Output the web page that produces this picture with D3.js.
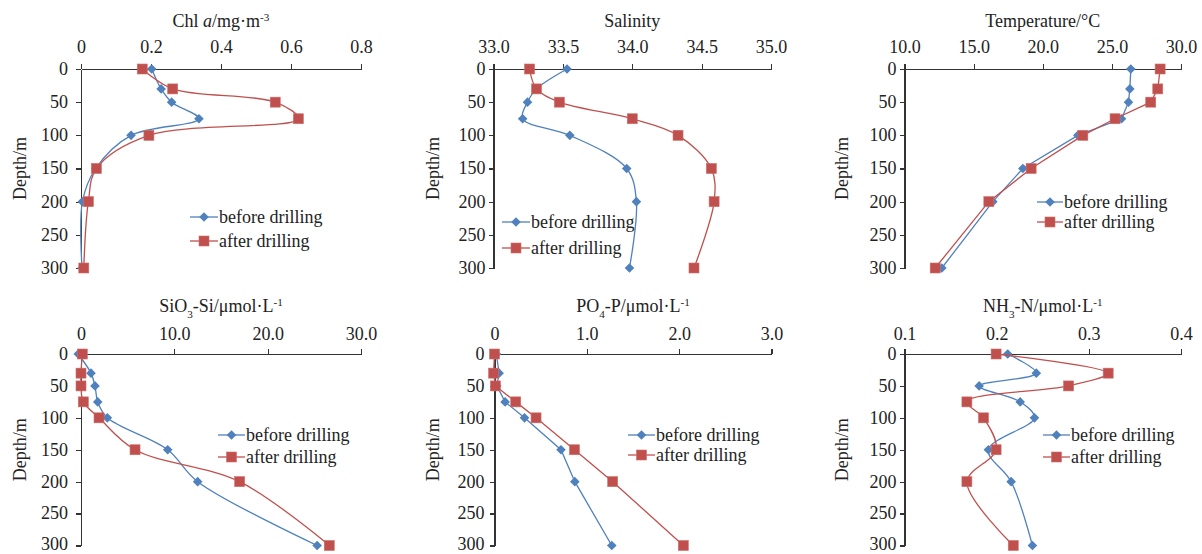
<!DOCTYPE html>
<html>
<head>
<meta charset="utf-8">
<script src="https://cdn.jsdelivr.net/npm/d3@7"></script>
<style>
  html, body { margin: 0; padding: 0; background: #fff; }
  svg { display: block; }
  text { font-family: "Liberation Serif", "Times New Roman", serif; fill: #222; }
</style>
</head>
<body>
<svg id="chart" width="1202" height="554"></svg>
<script>
// ---------------- DATA ----------------
const depths = [0, 30, 50, 75, 100, 150, 200, 300];
const depthTicks = [0, 50, 100, 150, 200, 250, 300];
const seriesNames = ["before drilling", "after drilling"];

const chlBefore = [0.202, 0.229, 0.259, 0.337, 0.143, 0.042, 0.004, 0.003];
const chlAfter  = [0.175, 0.262, 0.555, 0.621, 0.194, 0.044, 0.021, 0.008];
const chlTicks = [0, 0.2, 0.4, 0.6, 0.8];
const chlTickLabels = ["0", "0.2", "0.4", "0.6", "0.8"];

const salBefore = [33.53, 33.31, 33.245, 33.21, 33.55, 33.96, 34.03, 33.98];
const salAfter  = [33.26, 33.31, 33.475, 34.0, 34.33, 34.57, 34.59, 34.445];
const salTicks = [33.0, 33.5, 34.0, 34.5, 35.0];
const salTickLabels = ["33.0", "33.5", "34.0", "34.5", "35.0"];

const tempBefore = [26.37, 26.3, 26.2, 25.7, 22.54, 18.56, 16.39, 12.7];
const tempAfter  = [28.49, 28.32, 27.81, 25.23, 22.9, 19.16, 16.1, 12.22];
const tempTicks = [10, 15, 20, 25, 30];
const tempTickLabels = ["10.0", "15.0", "20.0", "25.0", "30.0"];

const siBefore = [-0.3, 1.07, 1.5, 1.79, 2.82, 9.29, 12.5, 25.3];
const siAfter  = [0.14, 0.0, 0.0, 0.25, 1.93, 5.79, 17.0, 26.6];
const siTicks = [0, 10, 20, 30];
const siTickLabels = ["0", "10.0", "20.0", "30.0"];

const poBefore = [0.02, 0.05, 0.025, 0.115, 0.325, 0.72, 0.87, 1.27];
const poAfter  = [0.0, -0.01, 0.01, 0.23, 0.45, 0.866, 1.28, 2.045];
const poTicks = [0, 1, 2, 3];
const poTickLabels = ["0", "1.0", "2.0", "3.0"];

const nhBefore = [0.212, 0.243, 0.181, 0.2255, 0.241, 0.191, 0.2157, 0.2388];
const nhAfter  = [0.1994, 0.321, 0.278, 0.1677, 0.1857, 0.1994, 0.1677, 0.218];
const nhTicks = [0.1, 0.2, 0.3, 0.4];
const nhTickLabels = ["0.1", "0.2", "0.3", "0.4"];

// ---------------- LAYOUT ----------------
const BLUE = "#4F81BD", RED = "#C0504D";
const FS = 18;
const svg = d3.select("#chart");

const panels = [
  { title: [["Chl "], ["a", "italic"], ["/mg·m"], ["-3", "sup"]], before: chlBefore, after: chlAfter,
    ticks: chlTicks, labels: chlTickLabels, x0: 81, x1: 361, y0: 69, y1: 268, smooth: true,
    ylab: 20, ypad: 8, leg: [190, 218, 217, 241] },
  { title: [["Salinity"]], before: salBefore, after: salAfter,
    ticks: salTicks, labels: salTickLabels, x0: 493.5, x1: 771, y0: 69, y1: 268, smooth: true,
    ylab: 433, ypad: 3, leg: [502, 530, 222, 248] },
  { title: [["Temperature/°C"]], before: tempBefore, after: tempAfter,
    ticks: tempTicks, labels: tempTickLabels, x0: 904.5, x1: 1181, y0: 69, y1: 268, smooth: false,
    ylab: 842, ypad: 3, leg: [1037, 1063, 202, 222] },
  { title: [["SiO"], ["3", "sub"], ["-Si/μmol·L"], ["-1", "sup"]], before: siBefore, after: siAfter,
    ticks: siTicks, labels: siTickLabels, x0: 81, x1: 361, y0: 354, y1: 545.5, smooth: true,
    ylab: 20, ypad: 8, leg: [218, 245, 435, 457] },
  { title: [["PO"], ["4", "sub"], ["-P/μmol·L"], ["-1", "sup"]], before: poBefore, after: poAfter,
    ticks: poTicks, labels: poTickLabels, x0: 494.5, x1: 771.5, y0: 354, y1: 545.5, smooth: false,
    ylab: 433, ypad: 5, leg: [628, 655, 435, 455] },
  { title: [["NH"], ["3", "sub"], ["-N/μmol·L"], ["-1", "sup"]], before: nhBefore, after: nhAfter,
    ticks: nhTicks, labels: nhTickLabels, x0: 904.5, x1: 1181, y0: 354, y1: 545.5, smooth: true,
    ylab: 842, ypad: 3, leg: [1043, 1070, 435, 457] }
];

function diamond(g, r) {
  return g.append("path").attr("d", `M0,${-r}L${r},0L0,${r}L${-r},0Z`).attr("fill", BLUE);
}
function square(g, s) {
  return g.append("rect").attr("x", -s / 2).attr("y", -s / 2).attr("width", s).attr("height", s)
    .attr("fill", RED).attr("stroke", "#CD6E6B").attr("stroke-width", 0.6);
}

panels.forEach(p => {
  const x = d3.scaleLinear().domain([p.ticks[0], p.ticks[p.ticks.length - 1]]).range([p.x0, p.x1]);
  const y = d3.scaleLinear().domain([0, 300]).range([p.y0, p.y1]);
  const g = svg.append("g");

  // X axis (top)
  const xa = g.append("g").attr("transform", `translate(0,${p.y0})`)
    .call(d3.axisTop(x).tickValues(p.ticks).tickFormat((d, i) => p.labels[i])
      .tickSize(5).tickSizeOuter(0).tickPadding(p.y0 < 100 ? 11 : 9));
  // Y axis (left)
  const ya = g.append("g").attr("transform", `translate(${p.x0},0)`)
    .call(d3.axisLeft(y).tickValues(depthTicks).tickSize(5).tickSizeOuter(0).tickPadding(p.ypad));
  [xa, ya].forEach(a => {
    a.selectAll("path, line").attr("stroke", "#333").attr("stroke-width", 1.2).attr("shape-rendering", "crispEdges");
    a.selectAll("text").attr("font-size", FS).attr("font-family", '"Liberation Serif", serif').attr("fill", "#222");
  });
  ya.selectAll("text").attr("dy", d => (p.y0 > 300 && d === 300) ? "0.2em" : "0.3em");

  // Title
  const t = g.append("text").attr("x", (p.x0 + p.x1) / 2).attr("y", p.y0 - 42)
    .attr("text-anchor", "middle").attr("font-size", FS);
  p.title.forEach(([s, kind]) => {
    const ts = t.append("tspan").text(s);
    if (kind === "italic") ts.attr("font-style", "italic");
    if (kind === "sup") ts.attr("font-size", FS * 0.62).attr("baseline-shift", "super");
    if (kind === "sub") ts.attr("font-size", FS * 0.62).attr("baseline-shift", "sub");
  });

  // Depth label
  g.append("text").attr("transform", `translate(${p.ylab},${(p.y0 + p.y1) / 2}) rotate(-90)`)
    .attr("text-anchor", "middle").attr("dy", "0.35em").attr("font-size", FS).text("Depth/m");

  const curve = p.smooth ? d3.curveCatmullRom.alpha(0.5) : d3.curveLinear;
  const line = d3.line().x(d => x(d[0])).y(d => y(d[1])).curve(curve);

  [[p.before, BLUE, "d"], [p.after, RED, "s"]].forEach(([vals, col, m]) => {
    const pts = vals.map((v, i) => [v, depths[i]]);
    g.append("path").attr("d", line(pts)).attr("fill", "none").attr("stroke", col).attr("stroke-width", 1.3);
    pts.forEach(pt => {
      const mg = g.append("g").attr("transform", `translate(${x(pt[0])},${y(pt[1])})`);
      if (m === "d") diamond(mg, 4.8); else square(mg, 10);
    });
  });

  // Legend
  const [lx1, lx2, r1, r2] = p.leg;
  [[r1, BLUE, "d", seriesNames[0]], [r2, RED, "s", seriesNames[1]]].forEach(([ry, col, m, name]) => {
    g.append("line").attr("x1", lx1).attr("x2", lx2).attr("y1", ry).attr("y2", ry)
      .attr("stroke", col).attr("stroke-width", 1.3);
    const mg = g.append("g").attr("transform", `translate(${(lx1 + lx2) / 2},${ry})`);
    if (m === "d") diamond(mg, 4.8); else square(mg, 10);
    g.append("text").attr("x", lx2 + 1).attr("y", ry).attr("dy", "0.33em").attr("font-size", FS).text(name);
  });
});
</script>
</body>
</html>
